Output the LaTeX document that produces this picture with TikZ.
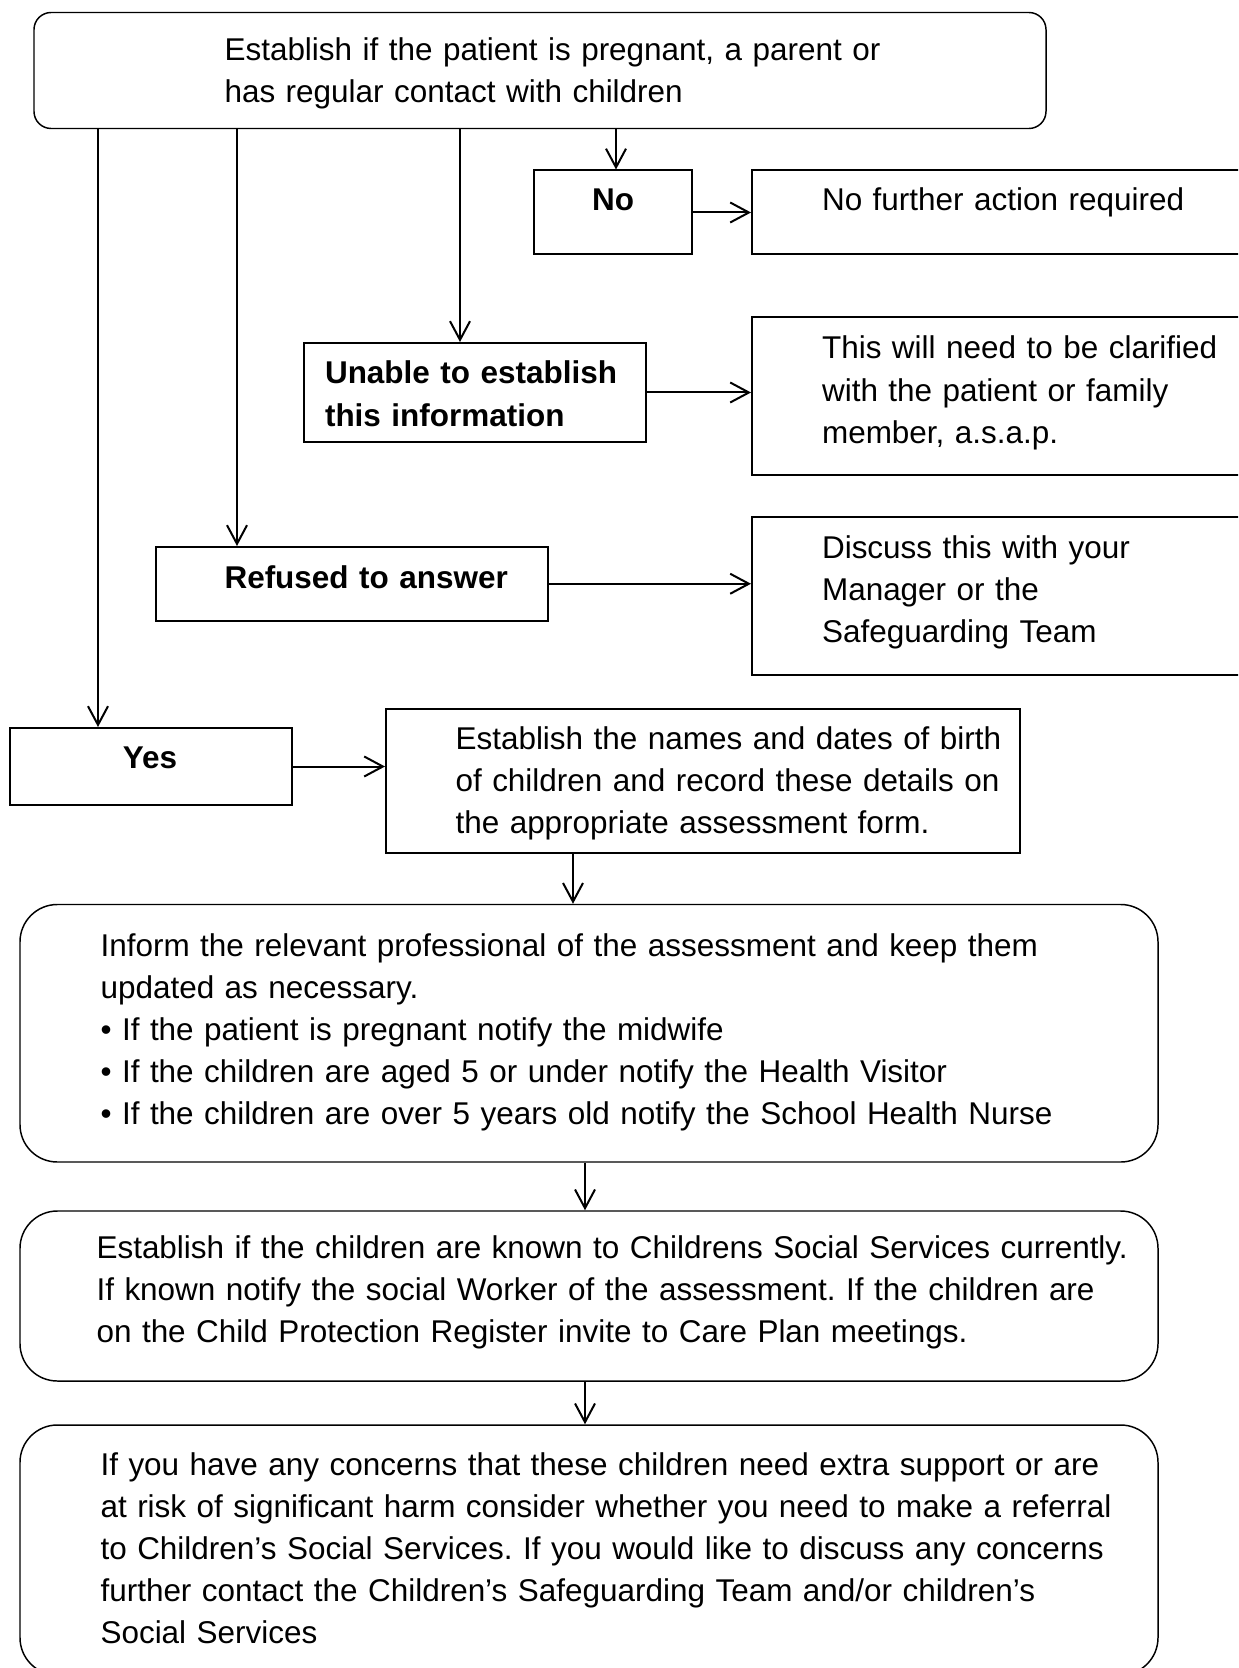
\documentclass[tikz,border=0pt]{standalone}
\usepackage{fontspec}
\setmainfont{Liberation Sans}
\usetikzlibrary{arrows.meta,fit}
\frenchspacing
\begin{document}
\frenchspacing
\begin{tikzpicture}[x=0.375pt,y=-0.375pt,
  every node/.style={font=\fontsize{11.8}{15.8}\selectfont\frenchspacing},
  rbox/.style={draw, line width=0.55pt, inner sep=0pt},
  sbox/.style={draw, line width=0.75pt, inner sep=0pt},
  txt/.style={anchor=base west, inner sep=0pt, align=left, text width=440pt},
  ctxt/.style={anchor=base, inner sep=0pt},
  bf/.style={font=\fontsize{11.8}{15.8}\selectfont\bfseries},
  arr/.style={-{Straight Barb[length=7pt,width=7.5pt]}, line width=0.75pt}
]
\path[use as bounding box] (0,0) rectangle (1238,1668);
\clip (0,0) rectangle (1238,1668);

% boxes
\node[rbox, rounded corners=6.4pt, fit={(34,12.5) (1046,128.5)}] (top) {};
\node[sbox, fit={(534,170.5) (692,254.5)}] (no) {};
\node[sbox, fit={(752,170.5) (1250,254.5)}] (nofurther) {};
\node[sbox, fit={(304,343) (646,442)}] (unable) {};
\node[sbox, fit={(752,317) (1250,474.5)}] (clarify) {};
\node[sbox, fit={(156,547) (548,620.5)}] (refused) {};
\node[sbox, fit={(752,517.3) (1250,674.7)}] (discuss) {};
\node[sbox, fit={(9.5,728) (292,805)}] (yes) {};
\node[sbox, fit={(386,709) (1020,853)}] (names) {};
\node[rbox, rounded corners=14pt, fit={(20,904.5) (1158,1162)}] (inform) {};
\node[rbox, rounded corners=14pt, fit={(20,1211) (1158,1381)}] (known) {};
\node[rbox, rounded corners=14pt, fit={(20,1425) (1158,1675)}] (last) {};

% texts
\node[txt] (ttop) at (224,60.5) {Establish if the patient is pregnant, a parent or\\has regular contact with children};
\node[ctxt, bf] (tno) at (613,211) {No};
\node[txt] (tnofurther) at (821.5,211) {No further action required};
\node[txt, bf] (tunable) at (324.5,384) {Unable to establish\\this information};
\node[txt] (tclarify) at (821.5,359) {This will need to be clarified\\with the patient or family\\member, a.s.a.p.};
\node[txt, bf] (trefused) at (224,588) {Refused to answer};
\node[txt] (tdiscuss) at (821.5,558) {Discuss this with your\\Manager or the\\Safeguarding Team};
\node[ctxt, bf] (tyes) at (150,768) {Yes};
\node[txt] (tnames) at (455,749) {Establish the names and dates of birth\\of children and record these details on\\the appropriate assessment form.};
\node[txt] (tinform) at (100,956) {Inform the relevant professional of the assessment and keep them\\updated as necessary.\\• If the patient is pregnant notify the midwife\\• If the children are aged 5 or under notify the Health Visitor\\• If the children are over 5 years old notify the School Health Nurse};
\node[txt] (tknown) at (96,1258.7) {Establish if the children are known to Childrens Social Services currently.\\If known notify the social Worker of the assessment. If the children are\\on the Child Protection Register invite to Care Plan meetings.};
\node[txt] (tlast) at (100,1475) {If you have any concerns that these children need extra support or are\\at risk of significant harm consider whether you need to make a referral\\to Children’s Social Services. If you would like to discuss any concerns\\further contact the Children’s Safeguarding Team and/or children’s\\Social Services};

% connector x positions
\coordinate (xa) at (98,0);
\coordinate (xb) at (237,0);
\coordinate (xc) at (460,0);
\coordinate (xd) at (616,0);
\coordinate (xe) at (573,0);
\coordinate (xf) at (585,0);

% connectors
\draw[arr] (top.south -| xa) -- (yes.north -| xa);
\draw[arr] (top.south -| xb) -- (refused.north -| xb);
\draw[arr] (top.south -| xc) -- (unable.north -| xc);
\draw[arr] (top.south -| xd) -- (no.north -| xd);
\draw[arr] (no.east) -- (no.east -| nofurther.west);
\draw[arr] (unable.east) -- (unable.east -| clarify.west);
\draw[arr] (refused.east) -- (refused.east -| discuss.west);
\draw[arr] (yes.east) -- (yes.east -| names.west);
\draw[arr] (names.south -| xe) -- (inform.north -| xe);
\draw[arr] (inform.south -| xf) -- (known.north -| xf);
\draw[arr] (known.south -| xf) -- (last.north -| xf);
\end{tikzpicture}
\end{document}
